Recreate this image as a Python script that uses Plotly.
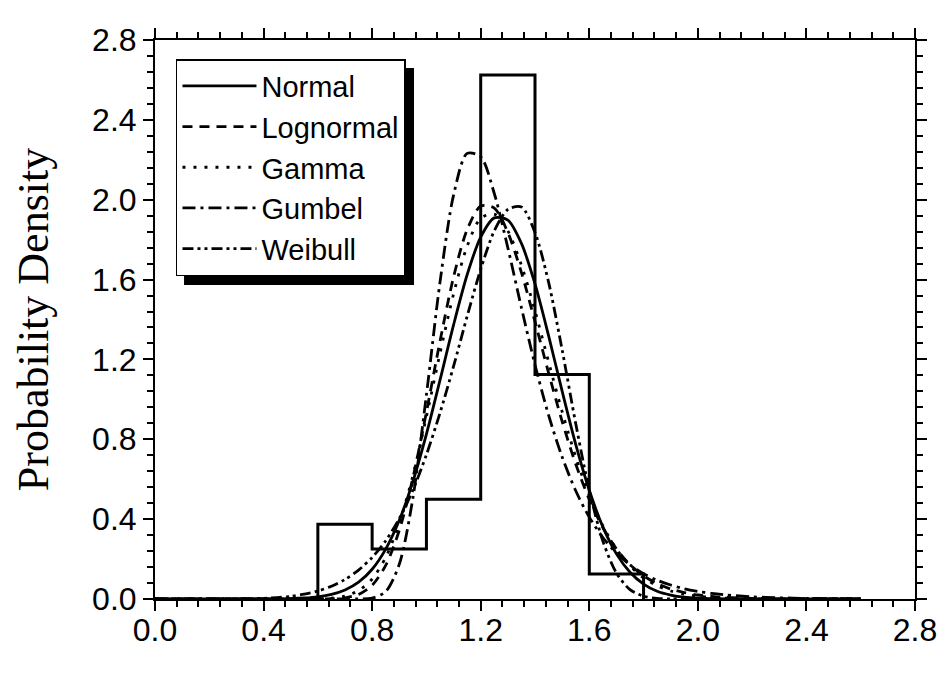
import plotly.graph_objects as go

# Histogram (bin edges and probability density per bin)
bin_edges = [0.6, 0.8, 1.0, 1.2, 1.4, 1.6, 1.8]
bin_density = [0.375, 0.25, 0.5, 2.625, 1.125, 0.125]

# Fitted probability density curves
x_fit = [0.0, 0.1, 0.2, 0.30, 0.35, 0.40, 0.45, 0.50, 0.55, 0.60, 0.65, 0.70, 0.75,
         0.80, 0.85, 0.90, 0.95, 1.00, 1.05, 1.10, 1.15, 1.20, 1.25, 1.30, 1.35,
         1.40, 1.45, 1.50, 1.55, 1.60, 1.65, 1.70, 1.75, 1.80, 1.85, 1.90, 1.95,
         2.00, 2.05, 2.10, 2.20, 2.30, 2.40, 2.50, 2.60]

normal = [0, 0, 0, 0, 0.0001, 0.0003, 0.0008, 0.002, 0.005, 0.011, 0.023, 0.045, 0.084,
          0.149, 0.250, 0.394, 0.588, 0.826, 1.096, 1.373, 1.624, 1.813, 1.909, 1.898, 1.781,
          1.578, 1.319, 1.041, 0.775, 0.545, 0.361, 0.226, 0.134, 0.075, 0.039, 0.020, 0.009,
          0.004, 0.002, 0.001, 0, 0, 0, 0, 0]

lognormal = [0, 0, 0, 0, 0, 0, 0, 0, 0, 0.0002, 0.001, 0.006, 0.023,
             0.069, 0.168, 0.344, 0.606, 0.936, 1.291, 1.613, 1.850, 1.968, 1.958, 1.836, 1.635,
             1.389, 1.133, 0.890, 0.676, 0.499, 0.358, 0.251, 0.172, 0.116, 0.077, 0.050, 0.032,
             0.020, 0.013, 0.008, 0.003, 0.001, 0.0004, 0.0001, 0]

gamma = [0, 0, 0, 0, 0, 0, 0, 0, 0.0002, 0.001, 0.0045, 0.015, 0.042,
         0.100, 0.208, 0.380, 0.617, 0.914, 1.231, 1.528, 1.767, 1.907, 1.928, 1.844, 1.672,
         1.444, 1.188, 0.938, 0.712, 0.519, 0.366, 0.251, 0.166, 0.106, 0.066, 0.040, 0.024,
         0.014, 0.008, 0.004, 0.001, 0.0003, 0.0001, 0, 0]

gumbel = [0, 0, 0, 0, 0, 0, 0, 0, 0, 0, 0, 0, 0.0002,
          0.004, 0.037, 0.174, 0.504, 1.023, 1.587, 2.023, 2.232, 2.215, 2.031, 1.759, 1.459,
          1.173, 0.921, 0.711, 0.542, 0.410, 0.308, 0.230, 0.171, 0.127, 0.094, 0.070, 0.051,
          0.038, 0.028, 0.021, 0.011, 0.006, 0.003, 0.002, 0.001]

weibull = [0, 0, 0, 0.0005, 0.0015, 0.0035, 0.007, 0.013, 0.024, 0.040, 0.064, 0.098, 0.145,
           0.208, 0.292, 0.403, 0.545, 0.723, 0.932, 1.166, 1.416, 1.652, 1.844, 1.951, 1.964,
           1.836, 1.587, 1.248, 0.879, 0.545, 0.290, 0.130, 0.047, 0.014, 0.003, 0.0005, 0,
           0, 0, 0, 0, 0, 0, 0, 0]

series_names = ["Normal", "Lognormal", "Gamma", "Gumbel", "Weibull"]
series_values = [normal, lognormal, gamma, gumbel, weibull]
series_dash = ["solid", "10px,7px", "3px,8px", "13px,5px,3px,5px", "11px,4px,3px,4px,3px,4px"]

x_ticks = [0.0, 0.4, 0.8, 1.2, 1.6, 2.0, 2.4, 2.8]
y_ticks = [0.0, 0.4, 0.8, 1.2, 1.6, 2.0, 2.4, 2.8]

fig = go.Figure()

# histogram outline as a step line
hx, hy = [bin_edges[0]], [0]
for i, d in enumerate(bin_density):
    hx += [bin_edges[i], bin_edges[i + 1]]
    hy += [d, d]
hx.append(bin_edges[-1])
hy.append(0)
fig.add_trace(go.Scatter(x=hx, y=hy, mode="lines", showlegend=False,
                         line=dict(color="black", width=3), hoverinfo="skip"))

for name, vals, dash in zip(series_names, series_values, series_dash):
    fig.add_trace(go.Scatter(x=x_fit, y=vals, mode="lines", name=name,
                             line=dict(color="black", width=2.8, dash=dash, shape="spline",
                                       smoothing=0.8)))

axis_common = dict(
    showline=True, linecolor="black", linewidth=2, mirror="ticks",
    ticks="outside", ticklen=10, tickwidth=2, tickcolor="black",
    showgrid=False, zeroline=False, tickformat=".1f",
    tickfont=dict(family="Liberation Sans, Arial, sans-serif", size=32, color="black"),
    minor=dict(dtick=0.08, ticks="outside", ticklen=6, tickwidth=1.5, tickcolor="black",
               showgrid=False),
)

fig.update_layout(
    width=949, height=683,
    margin=dict(l=147, r=42, t=32, b=92),
    paper_bgcolor="white", plot_bgcolor="white",
    xaxis=dict(range=[0, 2.8], tickvals=x_ticks, ticklabelstandoff=-8, **axis_common),
    yaxis=dict(range=[0, 2.8], tickvals=y_ticks,
               title=dict(text="Probability Density", standoff=30,
                          font=dict(family="Liberation Serif, Times New Roman, serif",
                                    size=44, color="black")),
               **axis_common),
    legend=dict(x=0.0276, y=0.966, xanchor="left", yanchor="top",
                bgcolor="white", bordercolor="black", borderwidth=1.5,
                font=dict(family="Liberation Sans, Arial, sans-serif", size=29, color="black"),
                tracegroupgap=0, itemwidth=74),
    shapes=[dict(type="rect", xref="paper", yref="paper", x0=0.0382, x1=0.3408,
                 y0=0.5617, y1=0.950, fillcolor="black", line=dict(width=0), layer="above")],
)

fig.write_html("out.html")
